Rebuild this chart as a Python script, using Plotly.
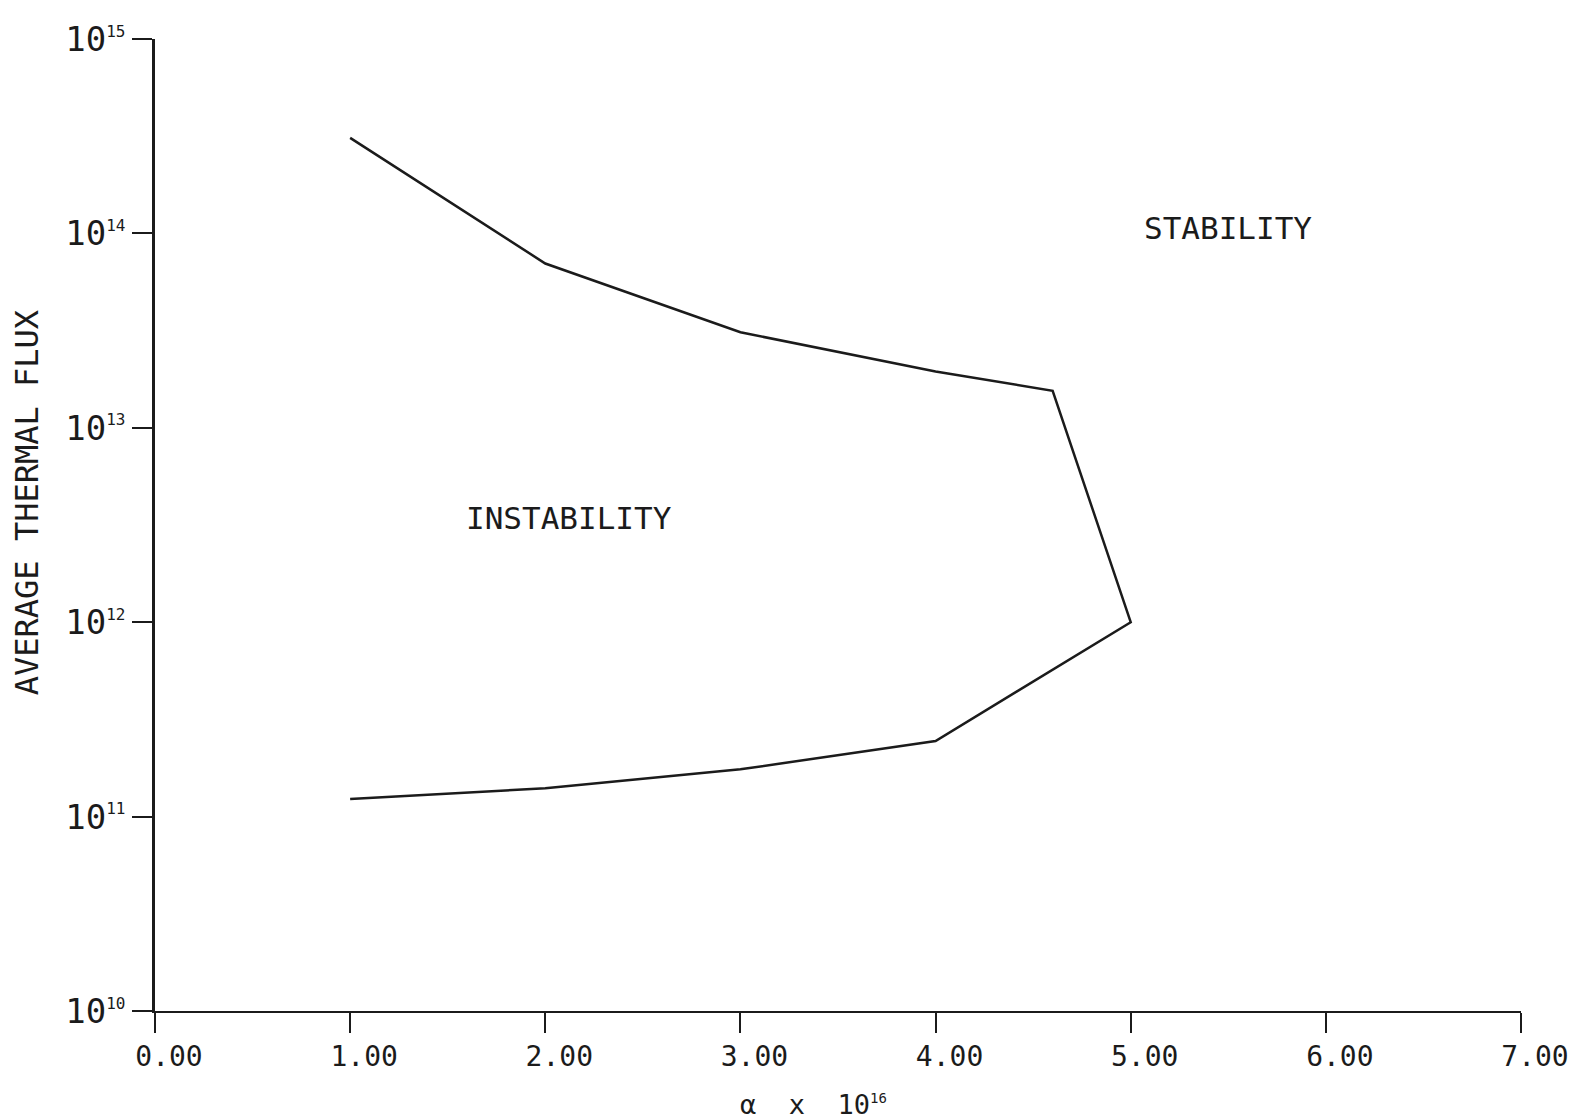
import plotly.graph_objects as go

# Stability boundary: alpha (x 1e16) versus average thermal flux
alpha = [1.0, 2.0, 3.0, 4.0, 4.6, 5.0, 4.0, 3.0, 2.0, 1.0]
flux = [3.1e14, 7.0e13, 3.1e13, 1.95e13, 1.55e13, 1.0e12, 2.45e11, 1.75e11, 1.4e11, 1.23e11]

x_ticks = [0, 1, 2, 3, 4, 5, 6, 7]
y_ticks = [1e10, 1e11, 1e12, 1e13, 1e14, 1e15]
y_exponents = [10, 11, 12, 13, 14, 15]

FONT = "DejaVu Sans Mono"
INK = "#1b1b1b"

y_ticktext = [
    f'10<sup><span style="font-size:16px">{e}</span></sup>' for e in y_exponents
]

fig = go.Figure()
fig.add_trace(
    go.Scatter(
        x=alpha,
        y=flux,
        mode="lines",
        line=dict(color=INK, width=2.5),
        hoverinfo="skip",
        showlegend=False,
    )
)

fig.update_xaxes(
    range=[0, 7],
    tickvals=x_ticks,
    tickformat=".2f",
    ticks="outside",
    ticklen=20,
    tickwidth=2,
    tickcolor=INK,
    showline=True,
    linecolor=INK,
    linewidth=1.6,
    showgrid=False,
    zeroline=False,
    ticklabelshift=14,
    tickfont=dict(family=FONT, size=28, color=INK),
)
fig.update_yaxes(
    type="log",
    range=[10, 15],
    tickvals=y_ticks,
    ticktext=y_ticktext,
    ticks="outside",
    ticklen=20,
    tickwidth=2,
    tickcolor=INK,
    showline=True,
    linecolor=INK,
    linewidth=2.6,
    showgrid=False,
    zeroline=False,
    tickfont=dict(family=FONT, size=34, color=INK),
)

label_font = dict(family=FONT, size=31, color=INK)
fig.add_annotation(x=5.50, y=14.03, xref="x", yref="y", text="STABILITY",
                   showarrow=False, font=label_font)
fig.add_annotation(x=2.12, y=12.536, xref="x", yref="y", text="INSTABILITY",
                   showarrow=False, font=label_font)

# Axis titles
fig.add_annotation(
    x=0.482, y=-0.096, xref="paper", yref="paper",
    text='α  x  10<sup><span style="font-size:14px">16</span></sup>',
    showarrow=False, font=dict(family=FONT, size=27, color=INK),
    xanchor="center", yanchor="middle",
)
fig.add_annotation(
    x=-0.094, y=0.523, xref="paper", yref="paper",
    text="AVERAGE THERMAL FLUX", textangle=-90,
    showarrow=False, font=dict(family=FONT, size=32, color=INK),
    xanchor="center", yanchor="middle",
)

fig.update_layout(
    width=1581,
    height=1119,
    margin=dict(l=155, r=57, t=39, b=108),
    paper_bgcolor="white",
    plot_bgcolor="white",
)

fig.write_html("out.html")
